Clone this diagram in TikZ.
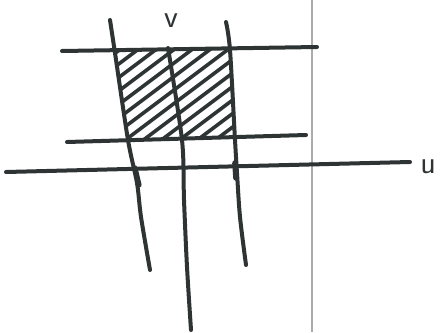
\documentclass[tikz,border=0pt]{standalone}
\usepackage{tikz}
\usetikzlibrary{positioning}
\definecolor{ink}{HTML}{2E3333}
\definecolor{rule}{HTML}{ABABAB}

\begin{document}
\begin{tikzpicture}[x=1pt,y=-1pt,font=\sffamily\fontsize{32}{32}\selectfont,
  pen/.style={ink,line width=4pt,line cap=round,line join=round}]
\useasboundingbox (0,0) rectangle (441,332);
\draw[rule,line width=1.5pt] (312,0) -- (312,332);
% hatched cell
\begin{scope}
\clip (115,52) -- (230,49) -- (235,138) -- (129,141) -- cycle;
\foreach \s in {0,...,13}
  \draw[pen,line width=3.6pt] (-14+\s*18,150) -- ++(140,-105);
\end{scope}
% horizontal lines
\draw[pen] (62,51) -- (317,47);
\draw[pen] (67,142) -- (306,135);
\draw[pen] (6,172) -- (410,162);
% vertical curves
\draw[pen] plot[smooth] coordinates {(110,20) (115,53) (128,140) (137,183) (141,217) (150,270)};
\draw[pen] plot[smooth] coordinates {(168,48) (182,140) (184,200) (187,267) (191,330)};
\draw[pen] plot[smooth] coordinates {(226,22) (230,50) (235,140) (237,173) (240,217) (246,265)};
\draw[pen,line width=5.6pt] (235,163) -- (236,178);
\draw[pen,line width=5.2pt] (135,168) -- (139,185);
% labels
\node[ink,inner sep=1pt,anchor=base] (v) at (171,27) {v};
\node[ink,inner sep=1pt,anchor=base] (u) at (428,173) {u};
\end{tikzpicture}
\end{document}
